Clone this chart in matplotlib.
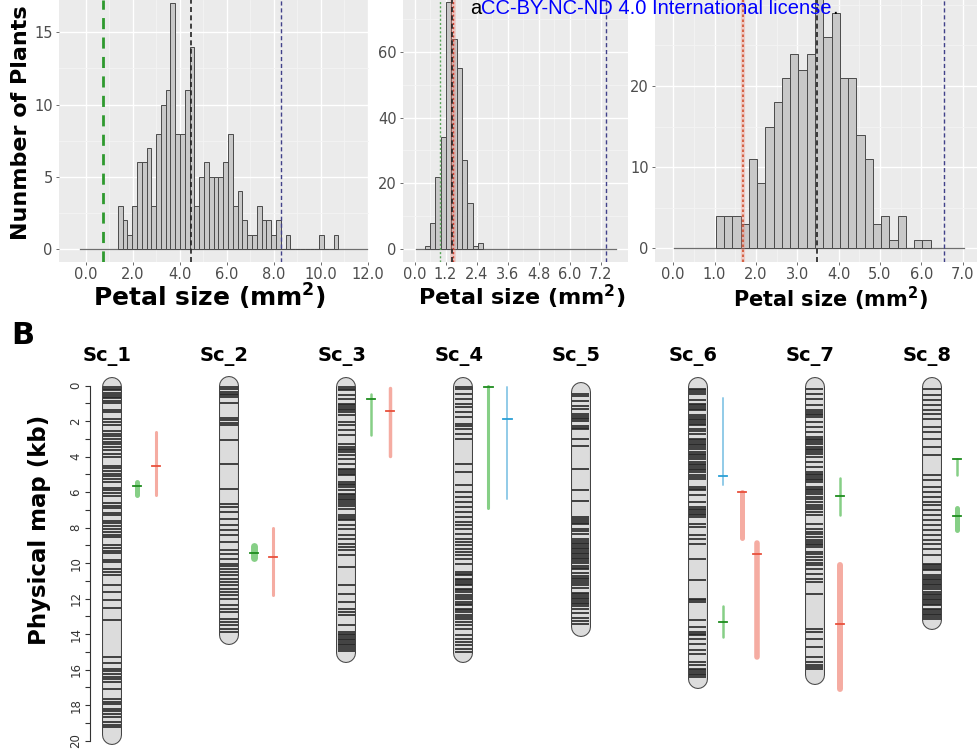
import numpy as np
import matplotlib.pyplot as plt

plt.rcParams['font.family'] = ['DejaVu Sans']

# ---------------- Panel A: petal size histograms (bin width ~0.2 mm2) ----------------
h1_start, h1_bw = 1.36, 0.204
h1_counts = [3, 2, 1, 3, 6, 6, 7, 3, 8, 10, 11, 17, 8, 8, 11, 14, 3, 5, 6, 5,
             5, 5, 6, 8, 3, 4, 2, 1, 1, 3, 2, 2, 1, 2, 0, 1, 0, 0, 0, 0,
             0, 0, 1, 0, 0, 1]
h1_range = [-0.24, 11.96]
h1_vlines = [0.74, 4.47, 8.31]

h2_start, h2_bw = 0.39, 0.206
h2_counts = [1, 8, 22, 34, 75, 64, 55, 27, 14, 1, 2]
h2_range = [0.06, 7.78]
h2_vlines = [0.97, 1.49, 1.46, 7.39]

h3_start, h3_bw = 1.03, 0.2
h3_counts = [4, 4, 4, 3, 11, 8, 15, 18, 21, 24, 22, 24, 31, 26, 29, 21, 21, 14,
             11, 3, 4, 1, 4, 0, 1, 1]
h3_range = [0.03, 7.03]
h3_vlines = [1.68, 3.47, 6.56]

# ---------------- Panel B: physical map ----------------
chrom_names = ['Sc_1', 'Sc_2', 'Sc_3', 'Sc_4', 'Sc_5', 'Sc_6', 'Sc_7', 'Sc_8']
chrom_start = [0.07, 0.01, 0.07, 0.07, 0.33, 0.09, 0.09, 0.09]
chrom_end = [19.7, 14.05, 15.05, 15.05, 13.58, 16.5, 16.3, 13.2]

bands = [
    [0.1, 0.18, 0.25, 0.4, 0.55, 0.62, 0.7, 0.85, 1.0, 1.35, 1.5, 1.9, 2.05, 2.2, 2.55, 2.7,
     2.85, 3.0, 3.15, 3.3, 3.45, 3.6, 3.85, 4.0, 4.5, 4.65, 4.8, 4.95, 5.1, 5.25, 5.4,
     5.75, 5.9, 6.05, 6.2, 6.6, 6.75, 6.9, 7.15, 7.3, 7.6, 7.75, 7.9, 8.05, 8.25, 8.4,
     8.55, 9.0, 9.15, 9.3, 9.45, 9.8, 9.93, 10.3, 10.5, 10.65, 11.2, 11.6, 12.1, 12.5,
     13.2, 15.3, 15.6, 15.95, 16.1, 16.25, 16.4, 16.55, 16.7, 17.07, 17.65, 17.8, 17.95,
     18.2, 18.35, 18.5, 18.65, 18.95, 19.1, 19.25],
    [0.05, 0.17, 0.35, 0.45, 0.55, 0.65, 1.0, 1.8, 1.95, 2.1, 2.23, 3.08, 4.4, 5.8, 6.64,
     6.83, 7.11, 7.49, 7.86, 8.15, 8.43, 8.8, 9.27, 9.46, 9.74, 10.02, 10.16, 10.31, 10.5,
     10.68, 10.87, 11.06, 11.25, 11.43, 11.62, 11.81, 12.0, 12.37, 12.56, 12.75, 13.12,
     13.31, 13.5, 13.69, 13.9],
    [0.07, 0.17, 0.26, 0.54, 0.73, 1.01, 1.1, 1.2, 1.3, 1.39, 1.5, 1.67, 2.04, 2.23, 2.51,
     2.8, 3.26, 3.45, 3.55, 3.64, 3.75, 3.92, 4.11, 4.39, 4.67, 4.76, 4.86, 4.95, 5.05,
     5.42, 5.52, 5.61, 5.7, 5.89, 6.08, 6.17, 6.27, 6.37, 6.46, 6.56, 6.65, 6.8, 6.93,
     7.3, 7.4, 7.5, 7.58, 7.87, 8.05, 8.43, 8.62, 8.9, 9.09, 9.27, 9.56, 10.22, 11.25,
     11.72, 12.19, 12.56, 12.75, 12.94, 13.5, 13.88, 14.0, 14.06, 14.15, 14.25, 14.35,
     14.44, 14.55, 14.63, 14.72, 14.82, 14.95],
    [0.05, 0.17, 0.45, 0.73, 1.01, 1.2, 1.48, 1.76, 2.14, 2.27, 2.42, 2.7, 2.98, 4.39,
     4.86, 5.61, 5.99, 6.27, 6.55, 6.83, 7.11, 7.4, 7.68, 7.87, 8.05, 8.33, 8.62, 8.8,
     8.99, 9.18, 9.37, 9.56, 9.74, 10.02, 10.5, 10.6, 10.68, 10.87, 10.95, 11.06, 11.15,
     11.25, 11.43, 11.52, 11.62, 11.81, 11.9, 12.0, 12.19, 12.3, 12.37, 12.56, 12.65,
     12.75, 12.94, 13.05, 13.13, 13.31, 13.5, 13.69, 14.06, 14.25, 14.44, 14.63, 14.82,
     15.0],
    [0.45, 0.6, 0.86, 1.14, 1.33, 1.61, 1.7, 1.8, 1.9, 1.99, 2.27, 2.36, 2.46, 3.02, 3.4,
     4.7, 5.9, 6.5, 7.4, 7.53, 7.62, 7.72, 7.81, 8.09, 8.2, 8.37, 8.66, 8.75, 8.84, 8.94,
     9.03, 9.12, 9.22, 9.31, 9.41, 9.5, 9.59, 9.69, 9.78, 9.88, 9.97, 10.16, 10.25, 10.35,
     10.53, 10.72, 10.82, 10.91, 11.0, 11.1, 11.2, 11.38, 11.66, 11.75, 11.85, 11.95,
     12.04, 12.13, 12.22, 12.32, 12.41, 12.6, 12.79, 13.07, 13.26, 13.45],
    [0.17, 0.26, 0.36, 0.45, 0.82, 1.01, 1.1, 1.2, 1.3, 1.39, 1.67, 1.76, 1.86, 1.95,
     2.04, 2.14, 2.23, 2.42, 2.55, 2.7, 2.98, 3.08, 3.17, 3.27, 3.36, 3.45, 3.55, 3.73,
     3.83, 3.92, 4.02, 4.11, 4.3, 4.4, 4.49, 4.58, 4.67, 4.77, 4.86, 5.05, 5.15, 5.24,
     5.71, 5.8, 5.89, 6.18, 6.55, 6.83, 6.93, 7.02, 7.11, 7.21, 7.3, 7.4, 7.77, 7.96,
     8.43, 8.62, 8.9, 9.74, 10.96, 12.0, 12.1, 12.19, 13.22, 13.59, 13.88, 13.97, 14.06,
     14.25, 14.53, 14.91, 15.1, 15.57, 15.75, 15.94, 16.03, 16.13, 16.22, 16.32, 16.41],
    [0.17, 0.45, 0.73, 1.11, 1.39, 1.48, 1.58, 1.67, 1.76, 2.04, 2.33, 2.61, 2.89, 2.98,
     3.08, 3.17, 3.26, 3.45, 3.55, 3.64, 3.73, 3.83, 4.02, 4.3, 4.58, 4.86, 4.95, 5.05,
     5.14, 5.24, 5.33, 5.42, 5.7, 5.8, 5.89, 5.98, 6.08, 6.27, 6.4, 6.55, 6.74, 6.84,
     6.93, 7.11, 7.3, 7.77, 8.05, 8.24, 8.38, 8.52, 8.71, 8.8, 8.9, 9.0, 9.09, 9.37, 9.5,
     9.65, 9.84, 9.98, 10.12, 10.31, 10.59, 10.87, 11.06, 11.71, 13.69, 13.88, 14.25,
     14.72, 15.28, 15.57, 15.75, 15.85, 15.94],
    [0.17, 0.54, 0.82, 1.11, 1.39, 1.58, 1.86, 2.33, 2.61, 2.98, 3.45, 3.92, 5.05, 5.33,
     5.71, 5.99, 6.27, 6.55, 6.74, 7.02, 7.3, 7.58, 7.87, 8.15, 8.43, 8.71, 8.9, 9.18,
     9.56, 10.03, 10.12, 10.22, 10.31, 10.4, 10.68, 10.78, 10.87, 10.97, 11.06, 11.15,
     11.25, 11.34, 11.43, 11.62, 11.72, 11.81, 11.9, 12.0, 12.1, 12.19, 12.28, 12.37,
     12.56, 12.65, 12.75, 12.84, 12.94, 13.03, 13.12],
]

# QTL intervals (kb): chromosome index, trait, interval, peak
qtl_chrom = [0, 0, 1, 1, 2, 2, 3, 3, 5, 5, 5, 5, 6, 6, 7, 7]
qtl_trait = ['g', 'r', 'g', 'r', 'g', 'r', 'g', 'b', 'b', 'r', 'r', 'g', 'g', 'r', 'g', 'g']
qtl_lo = [5.4, 2.63, 9.04, 8.04, 0.47, 0.15, 0.0, 0.05, 0.71, 5.97, 8.84, 12.4, 5.2, 10.1, 4.15, 6.9]
qtl_hi = [6.15, 6.16, 9.72, 11.8, 2.78, 3.96, 6.9, 6.4, 5.6, 8.6, 15.27, 14.14, 7.28, 17.1, 5.03, 8.13]
qtl_peak = [5.63, 4.52, 9.45, 9.63, 0.77, 1.41, 0.05, 1.9, 5.07, 5.97, 9.5, 13.3, 6.2, 13.45, 4.15, 7.32]

# layout / style for QTL bars
qtl_lane = [0, 1, 0, 1, 0, 1, 0, 1, 0, 1, 2, 0, 0, 0, 0, 0]
qtl_lw = [3.6, 2.2, 5.0, 2.2, 1.8, 2.5, 2.2, 1.4, 1.4, 3.6, 4.0, 1.8, 1.8, 4.3, 1.8, 3.6]
lane_px = [25, 44, 59]
bar_col = {'g': '#86cf86', 'r': '#f5aca2', 'b': '#92cbe8'}
peak_col = {'g': '#1e8c1e', 'r': '#e8503c', 'b': '#2a9fd6'}

W, H = 977.0, 751.0


def px_box(x0, y0, x1, y1):
    return [x0 / W, 1 - y1 / H, (x1 - x0) / W, (y1 - y0) / H]


def hist_panel(ax, start, bw, counts, rng, xticks, xlabels, yticks, yminor, xlim, ylim):
    ax.set_facecolor('#ebebeb')
    for s in ax.spines.values():
        s.set_visible(False)
    edges = start + bw * np.arange(len(counts))
    ax.plot(rng, [0, 0], color='#6e6e6e', lw=0.9, zorder=2)
    ax.bar(edges, counts, width=bw, align='edge', color='#c8c8c8',
           edgecolor='#4a4a4a', lw=0.7, zorder=3)
    ax.set_xticks(xticks)
    ax.set_xticklabels(xlabels)
    ax.set_xticks([(a + b) / 2 for a, b in zip(xticks[:-1], xticks[1:])], minor=True)
    ax.set_yticks(yticks)
    ax.set_yticks(yminor, minor=True)
    ax.grid(which='major', color='white', lw=1.0)
    ax.grid(which='minor', color='#f4f4f4', lw=0.6)
    ax.set_axisbelow(True)
    ax.tick_params(which='major', length=2.5, width=0.6, color='#555555', pad=2,
                   labelsize=10.5, labelcolor='#4d4d4d')
    ax.tick_params(axis='x', which='major', pad=1)
    ax.tick_params(which='minor', length=0)
    ax.set_xlim(xlim)
    ax.set_ylim(ylim)


fig = plt.figure(figsize=(9.77, 7.51), dpi=100)

ax1 = fig.add_axes(px_box(59, 0, 369, 262))
hist_panel(ax1, h1_start, h1_bw, h1_counts, h1_range,
           [0, 2, 4, 6, 8, 10, 12], ['0.0', '2.0', '4.0', '6.0', '8.0', '10.0', '12.0'],
           [0, 5, 10, 15], [2.5, 7.5, 12.5], (-1.14, 12.05), (-0.88, 17.23))
ax1.axvline(h1_vlines[0], color='#2f9a2f', lw=2.0, ls=(0, (4, 3)), zorder=4)
ax1.axvline(h1_vlines[1], color='#222222', lw=1.2, ls=(0, (3, 2)), zorder=4)
ax1.axvline(h1_vlines[2], color='#41418a', lw=1.0, ls=(0, (3, 2)), zorder=4)

ax2 = fig.add_axes(px_box(403, 0, 628, 262))
hist_panel(ax2, h2_start, h2_bw, h2_counts, h2_range,
           [0, 1.2, 2.4, 3.6, 4.8, 6.0, 7.2], ['0.0', '1.2', '2.4', '3.6', '4.8', '6.0', '7.2'],
           [0, 20, 40, 60], [10, 30, 50, 70], (-0.45, 8.26), (-3.86, 75.7))
ax2.axvline(h2_vlines[0], color='#5aa55a', lw=1.0, ls=(0, (1.5, 1.5)), zorder=4)
ax2.axvline(h2_vlines[1], color='#f08070', lw=4, alpha=0.35, zorder=4)
ax2.axvline(h2_vlines[1], color='#d04030', lw=1.0, ls=(0, (1.5, 1.5)), zorder=4)
ax2.axvline(h2_vlines[2], color='#222222', lw=1.2, ls=(0, (3, 2)), zorder=4)
ax2.axvline(h2_vlines[3], color='#41418a', lw=1.0, ls=(0, (3, 2)), zorder=4)

ax3 = fig.add_axes(px_box(655, 0, 977, 262))
hist_panel(ax3, h3_start, h3_bw, h3_counts, h3_range,
           [0, 1, 2, 3, 4, 5, 6, 7], ['0.0', '1.0', '2.0', '3.0', '4.0', '5.0', '6.0', '7.0'],
           [0, 10, 20], [5, 15, 25, 30], (-0.44, 7.35), (-1.69, 30.6))
ax3.axvline(h3_vlines[0], color='#f08070', lw=3, alpha=0.3, zorder=4)
ax3.axvline(h3_vlines[0], color='#d05030', lw=1.2, ls=(0, (1.5, 1.5)), zorder=4)
ax3.axvline(h3_vlines[1], color='#222222', lw=1.2, ls=(0, (3, 2)), zorder=4)
ax3.axvline(h3_vlines[2], color='#41418a', lw=1.0, ls=(0, (3, 2)), zorder=4)

xlab = r'Petal size (mm$^\mathbf{2}$)'
fig.text(209 / W, 1 - 297 / H, xlab, fontsize=18, fontweight='bold', ha='center', va='center')
fig.text(522 / W, 1 - 297 / H, xlab, fontsize=16, fontweight='bold', ha='center', va='center')
fig.text(830 / W, 1 - 299 / H, xlab, fontsize=15, fontweight='bold', ha='center', va='center')
fig.text(21 / W, 1 - 123 / H, 'Nunmber of Plants', fontsize=16, fontweight='bold',
         rotation=90, ha='center', va='center')

# licence banner
rend = fig.canvas.get_renderer()
x = 470.0
for part, col in zip(['a', 'CC-BY-NC-ND 4.0 International license', '.'],
                     ['black', '#0000ff', 'black']):
    t = fig.text(x / W, 1 - 9 / H, part, color=col, fontsize=14.5,
                 family='Liberation Sans', va='center', zorder=10)
    x = t.get_window_extent(rend).x1

# ---------------- Panel B ----------------
axB = fig.add_axes(px_box(90, 385.7, 977, 740.7))
axB.set_ylim(20, 0)
axB.set_xlim(-0.188, 7.385)
px_per_idx = 117.0
for i in range(len(chrom_names)):
    axB.plot([i, i], [chrom_start[i], chrom_end[i]], color='#444444', lw=14.4,
             solid_capstyle='round', clip_on=False, zorder=2)
    axB.plot([i, i], [chrom_start[i], chrom_end[i]], color='#dcdcdc', lw=12.9,
             solid_capstyle='round', clip_on=False, zorder=3)
    axB.hlines(bands[i], i - 0.074, i + 0.074, color='#262626', lw=1.2, zorder=4)
    axB.text(i - 0.04, -1.62, chrom_names[i], fontsize=14, fontweight='bold',
             ha='center', va='center')

for c, tr, lo, hi, pk, ln, lw in zip(qtl_chrom, qtl_trait, qtl_lo, qtl_hi, qtl_peak,
                                     qtl_lane, qtl_lw):
    xq = c + lane_px[ln] / px_per_idx
    axB.plot([xq, xq], [lo, hi], color=bar_col[tr], lw=lw, solid_capstyle='round',
             zorder=5, clip_on=False)
    axB.plot([xq - 0.035, xq + 0.035], [pk, pk], color=peak_col[tr], lw=1.3, zorder=6)

for side in ['top', 'right', 'bottom']:
    axB.spines[side].set_visible(False)
axB.spines['left'].set_color('#333333')
axB.set_xticks([])
axB.set_yticks(range(0, 21, 2))
axB.set_yticks(range(1, 20, 2), minor=True)
axB.tick_params(axis='y', which='both', length=3.6, width=0.8, color='#333333')
axB.tick_params(axis='y', labelsize=8.5, labelcolor='#333333', labelrotation=90, pad=2)
for lab in axB.get_yticklabels():
    lab.set_va('center')

fig.text(40 / W, 1 - 530 / H, 'Physical map (kb)', fontsize=16.5, fontweight='bold',
         rotation=90, ha='center', va='center')
fig.text(23 / W, 1 - 336 / H, 'B', fontsize=22, fontweight='bold', ha='center', va='center')

fig.savefig('out.png', dpi=100)
